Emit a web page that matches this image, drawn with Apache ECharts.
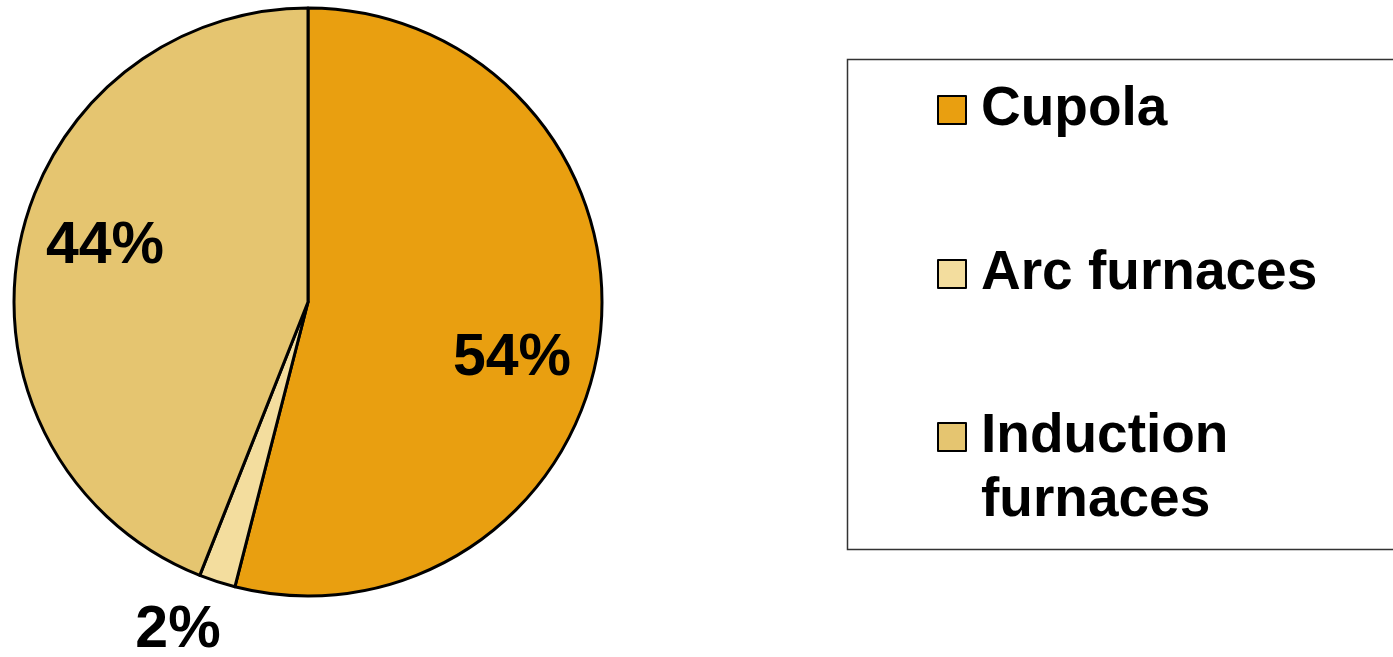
<!DOCTYPE html>
<html>
<head>
<meta charset="utf-8">
<script src="https://cdn.jsdelivr.net/npm/echarts@6/dist/echarts.min.js"></script>
<style>
  html, body { margin: 0; padding: 0; background: #ffffff; }
  #chart { width: 1393px; height: 657px; }
</style>
</head>
<body>
<div id="chart"></div>
<script>
// Share of melting capacity by furnace type (percent)
const categories = ['Cupola', 'Arc furnaces', 'Induction furnaces'];
const shares = [54, 2, 44];
const colors = ['#E99F10', '#F3DD9E', '#E5C570'];

// Legend captions; the last one wraps, and a leading empty line keeps
// its first line level with the swatch
const legendCaptions = ['Cupola', 'Arc furnaces', '\nInduction\nfurnaces'];

const chart = echarts.init(document.getElementById('chart'), null, { renderer: 'canvas' });

const FONT = '"Liberation Sans", Arial, sans-serif';
const CX = 308, CY = 302, R = 294;

// Label anchor for each slice, relative to the pie centre
const labelSpots = [[204, 57], [-130, 329], [-203, -55]];

const pieData = categories.map((name, i) => ({
  name: name,
  value: shares[i],
  itemStyle: { color: colors[i] }
}));

function legendFor(i, top) {
  return {
    left: 932,
    top: top,
    orient: 'vertical',
    data: [categories[i]],
    icon: 'rect',
    itemWidth: 28,
    itemHeight: 28,
    itemStyle: { borderColor: '#000', borderWidth: 2 },
    formatter: () => legendCaptions[i],
    selectedMode: false,
    textStyle: {
      fontFamily: FONT,
      fontWeight: 'bold',
      fontSize: 55,
      color: '#000',
      lineHeight: 64,
      padding: [0, 0, 0, 10]
    }
  };
}

const option = {
  backgroundColor: '#ffffff',
  animation: false,
  graphic: [{
    type: 'rect',
    shape: { x: 847.5, y: 59.5, width: 600, height: 490 },
    style: { fill: '#ffffff', stroke: '#333333', lineWidth: 1.5 },
    z: -1
  }],
  legend: [
    legendFor(0, 73),
    legendFor(1, 237),
    legendFor(2, 336)
  ],
  series: [{
    type: 'pie',
    center: [CX, CY],
    radius: R,
    startAngle: 90,
    clockwise: true,
    avoidLabelOverlap: false,
    data: pieData,
    itemStyle: { borderColor: '#000', borderWidth: 3 },
    label: {
      show: true,
      position: 'inside',
      formatter: p => p.value + '%',
      fontFamily: FONT,
      fontWeight: 'bold',
      fontSize: 59,
      color: '#000'
    },
    labelLine: { show: false },
    labelLayout: p => ({
      x: CX + labelSpots[p.dataIndex][0],
      y: CY + labelSpots[p.dataIndex][1],
      align: 'center',
      verticalAlign: 'middle'
    }),
    emphasis: { disabled: true }
  }]
};

chart.setOption(option);
</script>
</body>
</html>
